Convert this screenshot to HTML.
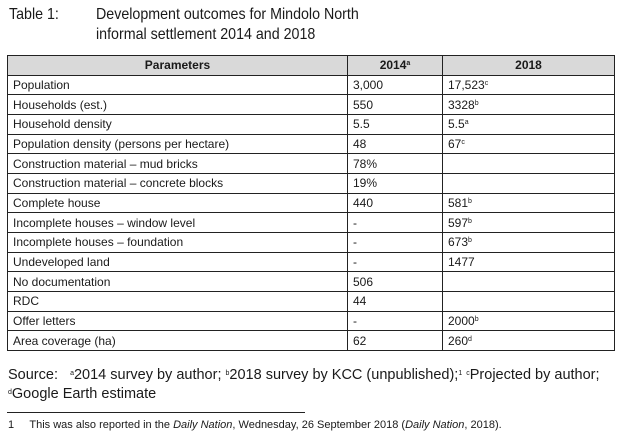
<!DOCTYPE html>
<html><head><meta charset="utf-8"><style>
body{margin:0;width:623px;height:443px;background:#fff;font-family:"Liberation Sans",Arial,sans-serif;color:#1a1a1a;position:relative;overflow:hidden}
.t{position:absolute;font-size:16px;line-height:20px;transform:scaleX(0.89);transform-origin:0 0;white-space:nowrap}
table{position:absolute;left:7px;top:55px;width:608px;height:296px;border-collapse:collapse;font-size:12px}
td,th{border:1px solid #222;padding:0 0 0 5px;text-align:left;font-weight:normal}
th{background:#d9d9d9;font-weight:bold;text-align:center;padding:0}
sup{font-size:7px;vertical-align:4px}
.s{position:absolute;font-size:14.5px;line-height:17px;white-space:nowrap}
</style></head><body>
<div class="t" style="left:9px;top:5px">Table 1:</div>
<div class="t" style="left:96px;top:5px">Development outcomes for Mindolo North<br>informal settlement 2014 and 2018</div>
<table>
<colgroup><col style="width:340px"><col style="width:95px"><col></colgroup>
<tr><th>Parameters</th><th>2014<sup>a</sup></th><th>2018</th></tr>
<tr><td>Population</td><td>3,000</td><td>17,523<sup>c</sup></td></tr>
<tr><td>Households (est.)</td><td>550</td><td>3328<sup>b</sup></td></tr>
<tr><td>Household density</td><td>5.5</td><td>5.5<sup>a</sup></td></tr>
<tr><td>Population density (persons per hectare)</td><td>48</td><td>67<sup>c</sup></td></tr>
<tr><td>Construction material – mud bricks</td><td>78%</td><td></td></tr>
<tr><td>Construction material – concrete blocks</td><td>19%</td><td></td></tr>
<tr><td>Complete house</td><td>440</td><td>581<sup>b</sup></td></tr>
<tr><td>Incomplete houses – window level</td><td>-</td><td>597<sup>b</sup></td></tr>
<tr><td>Incomplete houses – foundation</td><td>-</td><td>673<sup>b</sup></td></tr>
<tr><td>Undeveloped land</td><td>-</td><td>1477</td></tr>
<tr><td>No documentation</td><td>506</td><td></td></tr>
<tr><td>RDC</td><td>44</td><td></td></tr>
<tr><td>Offer letters</td><td>-</td><td>2000<sup>b</sup></td></tr>
<tr><td>Area coverage (ha)</td><td>62</td><td>260<sup>d</sup></td></tr>
</table>
<div class="s" style="left:8px;top:365px">Source:&nbsp;&nbsp;&nbsp;<sup>a</sup>2014 survey by author; <sup>b</sup>2018 survey by KCC (unpublished);<sup>1</sup> <sup>c</sup>Projected by author;<br><sup>d</sup>Google Earth estimate</div>
<div style="position:absolute;left:7px;top:412px;width:298px;height:1px;background:#222"></div>
<div style="position:absolute;left:8px;top:418px;font-size:11px;line-height:15px;white-space:nowrap">1&nbsp;&nbsp;&nbsp;&nbsp;&nbsp;This was also reported in the <i>Daily Nation</i>, Wednesday, 26 September 2018 (<i>Daily Nation</i>, 2018).</div>
</body></html>
